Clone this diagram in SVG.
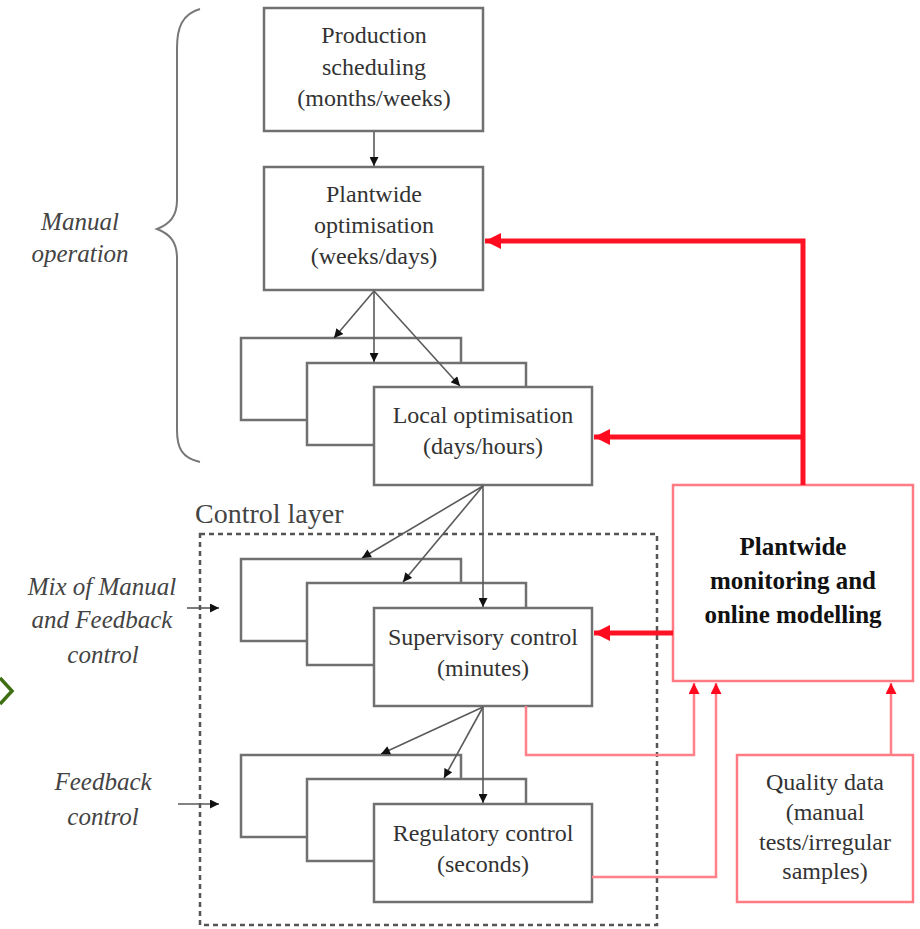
<svg xmlns="http://www.w3.org/2000/svg" width="920" height="929" viewBox="0 0 920 929">
  <style>
    .t { font-family: 'Liberation Serif', 'Times New Roman', Tinos, 'Noto Serif', 'DejaVu Serif', FreeSerif, serif; }
    .lbl { font-size: 24px; text-anchor: middle; fill: #333; }
    .ital { font-size: 25px; font-style: italic; text-anchor: middle; fill: #444; }
    .bold { font-size: 25px; font-weight: bold; text-anchor: middle; fill: #111; }
    .box { fill: #fff; stroke: #707070; stroke-width: 2.5; }
    .pbox { fill: #fff; stroke: #ff7a82; stroke-width: 2.5; }
    .arr { fill: none; stroke: #5a5a5a; stroke-width: 1.6; marker-end: url(#ah); }
    .thick { fill: none; stroke: #ff1224; stroke-width: 5; }
    .thin { fill: none; stroke: #ff8088; stroke-width: 2.5; }
  </style>
  <defs>
    <marker id="ah" viewBox="0 0 10 10" refX="10" refY="5" markerWidth="10" markerHeight="9" markerUnits="userSpaceOnUse" orient="auto">
      <path d="M0,0 L10,5 L0,10 z" fill="#111"/>
    </marker>
    <marker id="rbig" viewBox="0 0 10 10" refX="10" refY="5" markerWidth="16" markerHeight="16" markerUnits="userSpaceOnUse" orient="auto">
      <path d="M0,0 L10,5 L0,10 z" fill="#ff0a1e"/>
    </marker>
    <marker id="rsm" viewBox="0 0 10 10" refX="10" refY="5" markerWidth="11" markerHeight="11" markerUnits="userSpaceOnUse" orient="auto">
      <path d="M0,0 L10,5 L0,10 z" fill="#ff0a1e"/>
    </marker>
  </defs>

  <!-- brace grouping the manual operation levels -->
  <path d="M200,9 C182,14 177,28 177,48 L177,200 C177,216 170,224 157,229 C170,234 177,242 177,258 L177,430 C177,448 182,458 200,462" fill="none" stroke="#777" stroke-width="2"/>
  <text class="t ital" x="80" y="230">Manual</text>
  <text class="t ital" x="80" y="262">operation</text>

  <!-- control layer frame -->
  <rect x="200" y="534" width="457" height="391" fill="none" stroke="#555" stroke-width="2.5" stroke-dasharray="5,4"/>
  <text class="t" x="195" y="523" font-size="28" fill="#444">Control layer</text>
  <text class="t ital" x="102" y="595">Mix of Manual</text>
  <text class="t ital" x="102" y="628">and Feedback</text>
  <text class="t ital" x="103" y="663">control</text>
  <text class="t ital" x="103" y="790">Feedback</text>
  <text class="t ital" x="103" y="825">control</text>

  <!-- edge mark -->
  <polyline points="0,678 12,691 0,704" fill="none" stroke="#3d6e12" stroke-width="3.5"/>

  <g id="production-scheduling">
    <rect class="box" x="264" y="8" width="219" height="123"/>
    <text class="t lbl" x="374" y="43">Production</text>
    <text class="t lbl" x="374" y="75">scheduling</text>
    <text class="t lbl" x="374" y="106">(months/weeks)</text>
  </g>

  <g id="plantwide-optimisation">
    <rect class="box" x="264" y="167" width="219" height="123"/>
    <text class="t lbl" x="374" y="202">Plantwide</text>
    <text class="t lbl" x="374" y="233">optimisation</text>
    <text class="t lbl" x="374" y="264">(weeks/days)</text>
  </g>

  <g id="local-optimisation">
    <rect class="box" x="241" y="338" width="220" height="82"/>
    <rect class="box" x="307" y="363" width="219" height="82"/>
    <rect class="box" x="374" y="387" width="218" height="98"/>
    <text class="t lbl" x="483" y="423">Local optimisation</text>
    <text class="t lbl" x="483" y="454">(days/hours)</text>
  </g>

  <g id="supervisory-control">
    <rect class="box" x="241" y="559" width="220" height="82"/>
    <rect class="box" x="307" y="583" width="219" height="82"/>
    <rect class="box" x="374" y="608" width="218" height="98"/>
    <text class="t lbl" x="483" y="645">Supervisory control</text>
    <text class="t lbl" x="483" y="676">(minutes)</text>
  </g>

  <g id="regulatory-control">
    <rect class="box" x="241" y="755" width="220" height="82"/>
    <rect class="box" x="307" y="779" width="219" height="82"/>
    <rect class="box" x="374" y="804" width="218" height="98"/>
    <text class="t lbl" x="483" y="841">Regulatory control</text>
    <text class="t lbl" x="483" y="872">(seconds)</text>
  </g>

  <g id="plantwide-monitoring">
    <rect class="pbox" x="673" y="485" width="240" height="196"/>
    <text class="t bold" x="793" y="555">Plantwide</text>
    <text class="t bold" x="793" y="589">monitoring and</text>
    <text class="t bold" x="793" y="623">online modelling</text>
  </g>

  <g id="quality-data">
    <rect class="pbox" x="737" y="755" width="176" height="147"/>
    <text class="t lbl" x="825" y="790">Quality data</text>
    <text class="t lbl" x="825" y="820">(manual</text>
    <text class="t lbl" x="825" y="850">tests/irregular</text>
    <text class="t lbl" x="825" y="879">samples)</text>
  </g>

  <g id="connectors">
    <line class="arr" x1="374" y1="132" x2="374" y2="166"/>
    <line class="arr" x1="374" y1="291" x2="334" y2="338"/>
    <line class="arr" x1="374" y1="291" x2="374" y2="362"/>
    <line class="arr" x1="374" y1="291" x2="460" y2="386"/>
    <line class="arr" x1="483" y1="486" x2="362" y2="558"/>
    <line class="arr" x1="483" y1="486" x2="403" y2="582"/>
    <line class="arr" x1="483" y1="486" x2="483" y2="607"/>
    <line class="arr" x1="483" y1="707" x2="381" y2="754"/>
    <line class="arr" x1="483" y1="707" x2="444" y2="778"/>
    <line class="arr" x1="483" y1="707" x2="483" y2="803"/>
    <line class="arr" x1="187" y1="608" x2="219" y2="608"/>
    <line class="arr" x1="178" y1="804" x2="219" y2="804"/>

    <path class="thick" d="M803,485 V241 H485" marker-end="url(#rbig)"/>
    <path class="thick" d="M803,437 H594" marker-end="url(#rbig)"/>
    <path class="thick" d="M673,633 H594" marker-end="url(#rbig)"/>

    <path class="thin" d="M526,706 V755 H694 V683" marker-end="url(#rsm)"/>
    <path class="thin" d="M592,877 H716 V683" marker-end="url(#rsm)"/>
    <path class="thin" d="M891,755 V683" marker-end="url(#rsm)"/>
  </g>
</svg>
